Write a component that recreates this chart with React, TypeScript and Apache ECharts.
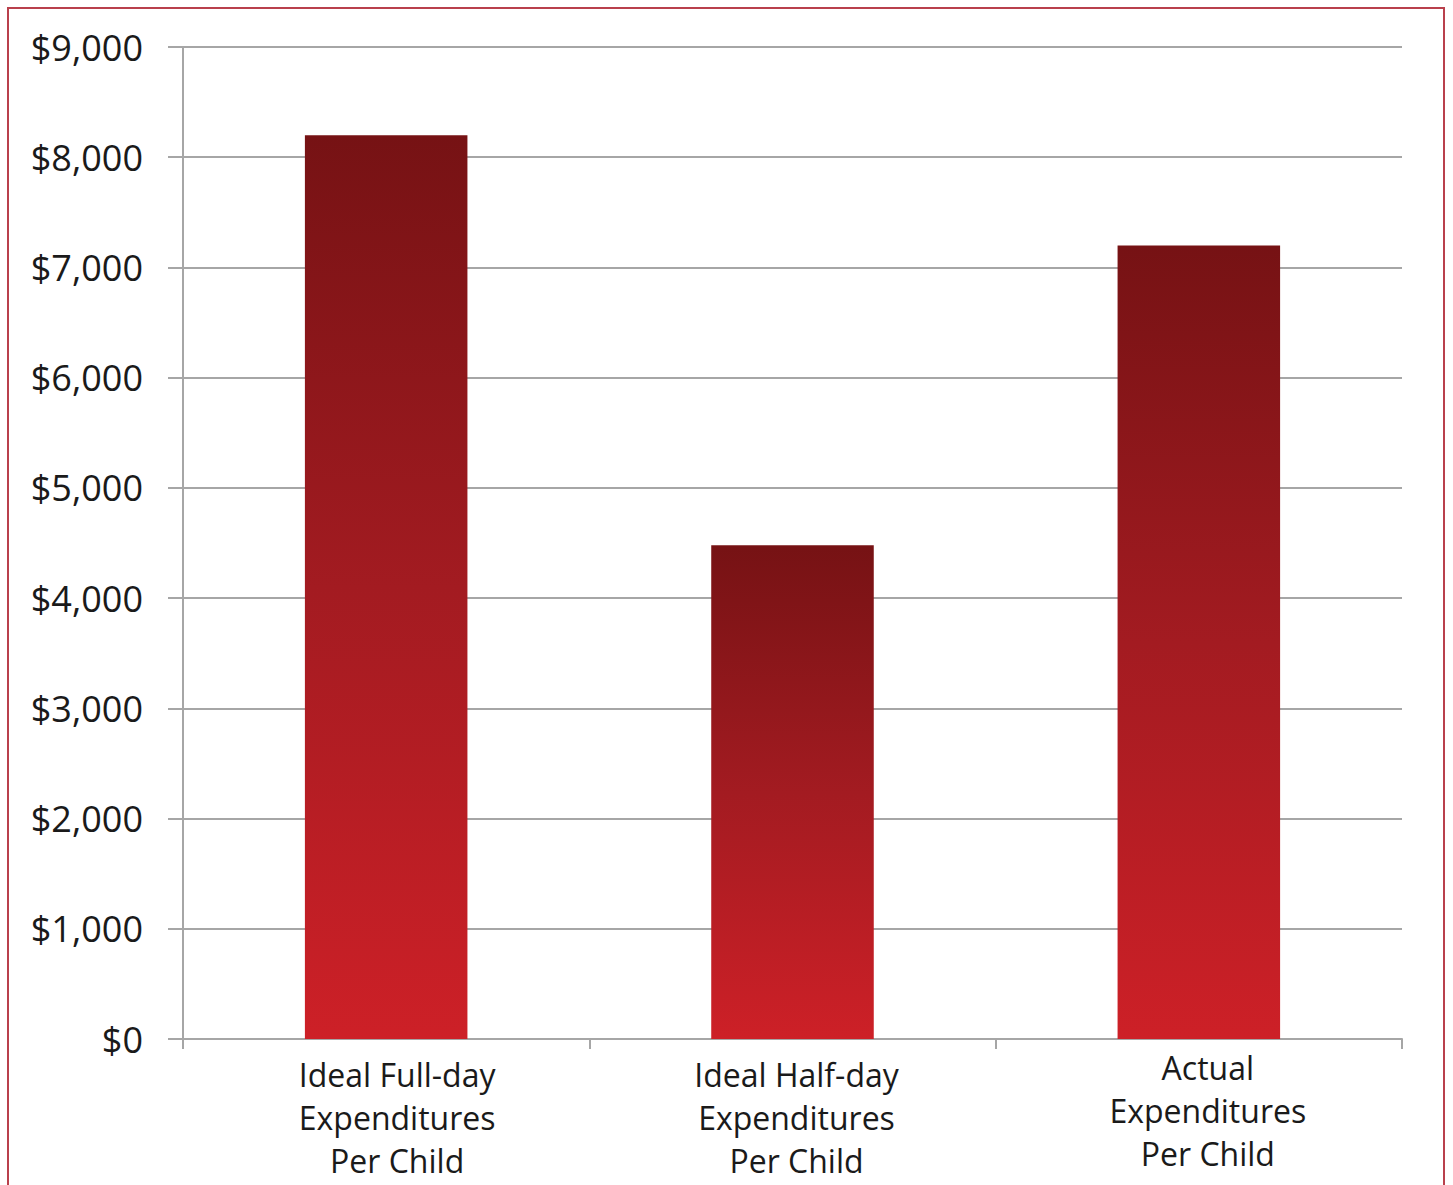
import React, { useEffect, useRef } from "react";
import * as echarts from "echarts";

const categories = [
  "Ideal Full-day\nExpenditures\nPer Child",
  "Ideal Half-day\nExpenditures\nPer Child",
  "Actual\nExpenditures\nPer Child",
];
const values = [8200, 4480, 7200];
const yTicks = { min: 0, max: 9000, interval: 1000 };

export default function App() {
  const ref = useRef<HTMLDivElement>(null);
  useEffect(() => {
    document.body.style.margin = "0";
    const chart = echarts.init(ref.current!, null, { renderer: "svg" });
    const font = "'Open Sans', 'Noto Sans', sans-serif";
    const labelPads = [
      [0, 0, 0, 22],
      [0, 0, 0, 8],
      [-7, 0, 0, 18],
    ];
    chart.setOption({
      animation: false,
      backgroundColor: "#ffffff",
      grid: { left: 183, right: 51, top: 47, bottom: 146, containLabel: false },
      graphic: [
        {
          type: "rect",
          shape: { x: 8, y: 8, width: 1436, height: 1200 },
          style: { fill: "none", stroke: "#b9404c", lineWidth: 2 },
          silent: true,
        },
      ],
      xAxis: {
        type: "category",
        data: categories.map((c, i) => ({ value: c, textStyle: { padding: labelPads[i] } })),
        axisLine: { show: true, lineStyle: { color: "#a6a6a6", width: 2 } },
        axisTick: { show: true, length: 10, alignWithLabel: false, lineStyle: { color: "#a6a6a6", width: 2 } },
        axisLabel: {
          color: "#1a1a1a",
          fontFamily: font,
          fontSize: 32,
          lineHeight: 43,
          margin: 14,
          interval: 0,
        },
      },
      yAxis: {
        type: "value",
        min: yTicks.min,
        max: yTicks.max,
        interval: yTicks.interval,
        axisLine: { show: true, lineStyle: { color: "#a6a6a6", width: 2 } },
        axisTick: { show: true, length: 15, lineStyle: { color: "#a6a6a6", width: 2 } },
        splitLine: { show: true, lineStyle: { color: "#a6a6a6", width: 2 } },
        axisLabel: {
          color: "#1a1a1a",
          fontFamily: font,
          fontSize: 36,
          margin: 40,
          formatter: (v: number) => "$" + v.toLocaleString("en-US"),
        },
      },
      series: [
        {
          type: "bar",
          data: values,
          barWidth: "40%",
          itemStyle: {
            color: new echarts.graphic.LinearGradient(0, 0, 0, 1, [
              { offset: 0, color: "#761214" },
              { offset: 0.5, color: "#a31b21" },
              { offset: 1, color: "#cd2027" },
            ]),
          },
        },
      ],
    });
    return () => chart.dispose();
  }, []);
  return <div ref={ref} style={{ position: "absolute", left: 0, top: 0, width: 1453, height: 1185 }} />;
}
